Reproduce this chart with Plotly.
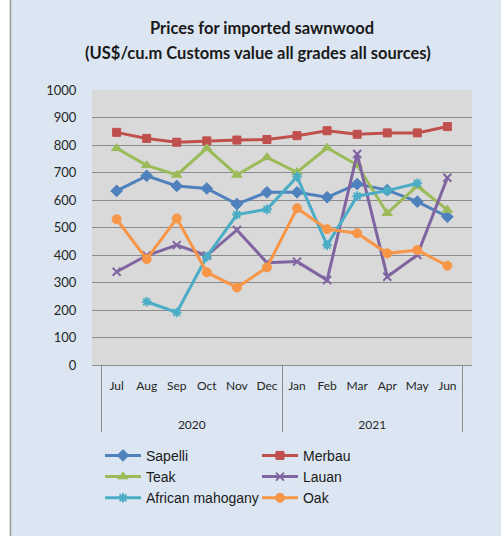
import plotly.graph_objects as go

years = ["2020"] * 6 + ["2021"] * 6
months = ["Jul", "Aug", "Sep", "Oct", "Nov", "Dec", "Jan", "Feb", "Mar", "Apr", "May", "Jun"]

sapelli = [633, 688, 651, 642, 585, 628, 628, 610, 658, 636, 594, 539]
merbau = [846, 824, 810, 815, 818, 820, 834, 852, 839, 844, 844, 867]
teak = [788, 726, 691, 788, 691, 755, 701, 790, 727, 552, 651, 564]
lauan = [339, 398, 436, 398, 491, 372, 376, 309, 767, 321, 400, 681]
african_mahogany = [None, 230, 191, 394, 547, 566, 685, 436, 614, 634, 661, None]
oak = [530, 385, 533, 337, 282, 355, 570, 494, 479, 406, 418, 361]

series = [
    ("Sapelli", sapelli, "#4F81BD", "diamond", 9, 1),
    ("Merbau", merbau, "#C0504D", "square", 8, 1),
    ("Teak", teak, "#9BBB59", "triangle-up", 9, 1),
    ("Lauan", lauan, "#8064A2", "x-thin-open", 8, 2),
    ("African mahogany", african_mahogany, "#4BACC6", "asterisk-open", 8, 2),
    ("Oak", oak, "#F79646", "circle", 9, 1),
]

# extra blank lines push the year row lower, as in the reference
month_labels = [m + "<br> " for m in months]
year_labels = ["<br>" + y for y in years]

fig = go.Figure()
for name, vals, color, sym, size, lw in series:
    fig.add_trace(go.Scatter(
        x=[year_labels, month_labels], y=vals, name=name, mode="lines+markers",
        line=dict(color=color, width=3),
        marker=dict(symbol=sym, size=size, color=color, line=dict(color=color, width=lw)),
    ))

# frame: white strip on the left with a grey edge
fig.add_shape(type="rect", xref="paper", yref="paper", x0=-0.25, x1=-0.216, y0=-0.7, y1=1.4,
              fillcolor="white", line_width=0, layer="below")
fig.add_shape(type="line", xref="paper", yref="paper", x0=-0.2145, x1=-0.2145, y0=-0.7, y1=1.4,
              line=dict(color="#9a9a9a", width=1.5))

fig.add_annotation(text="<b>Prices for imported sawnwood</b>", xref="paper", yref="paper",
                   x=0.447, y=1.2255, showarrow=False, yanchor="middle",
                   font=dict(family="Lato", size=16.5, color="#1a1a1a"))
fig.add_annotation(text="<b>(US$/cu.m Customs value all grades all sources)</b>", xref="paper", yref="paper",
                   x=0.437, y=1.1345, showarrow=False, yanchor="middle",
                   font=dict(family="Lato", size=16.5, color="#1a1a1a"))

fig.update_layout(
    width=501, height=536,
    margin=dict(l=92, r=29, t=90, b=171, autoexpand=False),
    paper_bgcolor="#DCE6F2", plot_bgcolor="#D9D9D9",
    font=dict(family="Lato", color="#262626"),
    showlegend=True,
    legend=dict(orientation="h", x=0.021, y=-0.272, xanchor="left", yanchor="top",
                entrywidth=106, entrywidthmode="pixels", bgcolor="rgba(0,0,0,0)",
                font=dict(family="Liberation Sans", size=14, color="#1a1a1a"),
                tracegroupgap=0, itemwidth=36),
    xaxis=dict(type="multicategory", showgrid=False, showline=True, linecolor="#8c8c8c",
               dividercolor="#8c8c8c", dividerwidth=1, tickangle=0, automargin=False,
               ticklabelstandoff=10,
               tickfont=dict(family="Lato", size=12, color="#262626")),
    yaxis=dict(range=[0, 1000], dtick=100, showgrid=True, gridcolor="#8c8c8c", gridwidth=1,
               zeroline=False, ticks="outside", ticklen=12, tickcolor="rgba(0,0,0,0)",
               automargin=False,
               tickfont=dict(family="Lato", size=13, color="#262626")),
)

fig.write_html("out.html", config={"displayModeBar": False},
               post_script="document.body.style.margin='0';")
